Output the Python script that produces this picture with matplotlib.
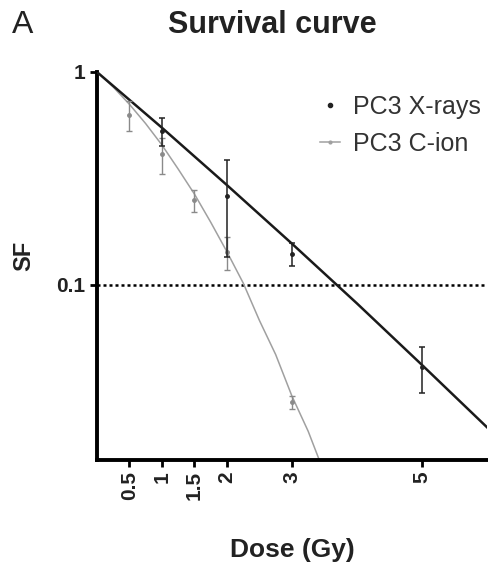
import matplotlib
matplotlib.use("Agg")
import matplotlib.pyplot as plt
from matplotlib.lines import Line2D

plt.rcParams['font.family'] = ['Liberation Sans', 'DejaVu Sans']

# X-ray measured points
xr_dose = [1, 2, 3, 5]
xr_sf = [0.53, 0.26, 0.14, 0.041]
xr_err = [0.08, 0.125, 0.017, 0.010]

# C-ion measured points
ci_dose = [0.5, 1, 1.5, 2, 3]
ci_sf = [0.63, 0.41, 0.25, 0.142, 0.028]
ci_err = [0.10, 0.08, 0.03, 0.025, 0.002]

# Fitted curves
xr_fit_dose = [0, 1, 2, 3, 4, 5, 6]
xr_fit_sf = [1.0, 0.547, 0.294, 0.156, 0.0817, 0.042, 0.0214]
ci_fit_dose = [0, 0.25, 0.5, 0.75, 1, 1.25, 1.5, 1.75, 2, 2.25, 2.5, 2.75, 3, 3.25, 3.5]
ci_fit_sf = [1.0, 0.85, 0.705, 0.572, 0.454, 0.35, 0.267, 0.197, 0.143, 0.102,
             0.068, 0.047, 0.030, 0.0205, 0.013]

xticks = [0.5, 1, 1.5, 2, 3, 5]
xtick_labels = ["0.5", "1", "1.5", "2", "3", "5"]
yticks = [0.1, 1]
ytick_labels = ["0.1", "1"]

fig = plt.figure(figsize=(4.89, 5.66), dpi=100)
ax = fig.add_axes([0.198, 0.187, 0.798, 0.686])

ax.set_yscale('log')
ax.set_xlim(0, 6.0)
ax.set_ylim(0.015, 1)

ax.axhline(0.1, color='black', linestyle=(0, (1.2, 1.2)), linewidth=1.8, zorder=1)

ax.plot(ci_fit_dose, ci_fit_sf, color='#a0a0a0', linewidth=1.1, zorder=2)
ax.plot(xr_fit_dose, xr_fit_sf, color='#1a1a1a', linewidth=1.8, zorder=3)

ax.errorbar(ci_dose, ci_sf, yerr=ci_err, fmt='o', color='#8a8a8a', markersize=2.5,
            elinewidth=1.0, capsize=2.5, capthick=1.0, zorder=4)
ax.errorbar(xr_dose, xr_sf, yerr=xr_err, fmt='o', color='#222222', markersize=2.5,
            elinewidth=1.1, capsize=2.5, capthick=1.1, zorder=5)

for s in ['top', 'right']:
    ax.spines[s].set_visible(False)
for s in ['left', 'bottom']:
    ax.spines[s].set_linewidth(2.8)

ax.set_xticks(xticks)
ax.set_xticklabels(xtick_labels, rotation=90, fontsize=15, fontweight='bold', color='#222222')
ax.set_yticks(yticks)
ax.set_yticklabels(ytick_labels, fontsize=15, fontweight='bold', color='#222222')
ax.yaxis.set_minor_locator(matplotlib.ticker.NullLocator())
ax.tick_params(axis='both', which='major', length=5, width=2, direction='out', pad=3)

ax.set_xlabel("Dose (Gy)", fontsize=19, fontweight='bold', color='#222222')
ax.xaxis.set_label_coords(0.5, -0.2)
ax.set_ylabel("SF", fontsize=17, fontweight='bold', color='#222222')
ax.yaxis.set_label_coords(-0.157, 0.525)

handles = [
    Line2D([], [], color='#222222', marker='o', markersize=3, linestyle='none'),
    Line2D([], [], color='#a0a0a0', marker='o', markersize=2, linewidth=1.1),
]
ax.legend(handles, ["PC3 X-rays", "PC3 C-ion"], loc='upper right', bbox_to_anchor=(1.028, 0.985),
          frameon=False, fontsize=18, handlelength=0.8, handletextpad=0.5,
          labelspacing=0.5, labelcolor='#333333', borderpad=0.2)

fig.text(0.556, 0.956, "Survival curve", ha='center', va='center', fontsize=22,
         fontweight='bold', color='#222222')
fig.text(0.024, 0.956, "A", ha='left', va='center', fontsize=23, color='#222222')

fig.savefig("out.png", dpi=100)
